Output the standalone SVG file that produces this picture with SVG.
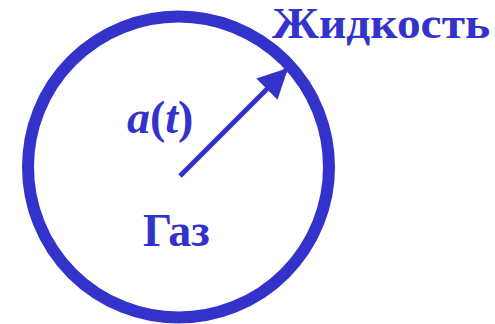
<svg xmlns="http://www.w3.org/2000/svg" width="495" height="324" viewBox="0 0 495 324">
<style>
.t{font-family:"Liberation Serif","Times New Roman",serif;font-weight:bold;fill:#3333CC}
.i{font-style:italic}
</style>
<defs>
<marker id="ah" viewBox="0 0 10 10" refX="9" refY="5" markerWidth="6" markerHeight="6" markerUnits="strokeWidth" orient="auto">
<path d="M0,0 L10,5 L0,10 z" fill="#3333CC"/>
</marker>
</defs>
<rect width="495" height="324" fill="#fff"/>
<g id="bubble">
<circle cx="178.5" cy="167" r="150.5" fill="none" stroke="#3333CC" stroke-width="12"/>
</g>
<g id="connectors">
<line x1="180" y1="176" x2="286" y2="70" stroke="#3333CC" stroke-width="5" marker-end="url(#ah)"/>
</g>
<g id="liquid"><text class="t" x="272" y="38" font-size="45" textLength="218" lengthAdjust="spacingAndGlyphs">Жидкость</text></g>
<g id="radius"><text class="t" x="127" y="133" font-size="46"><tspan class="i">a</tspan>(<tspan class="i">t</tspan>)</text></g>
<g id="gas"><text class="t" x="143" y="246" font-size="46">Газ</text></g>
</svg>
